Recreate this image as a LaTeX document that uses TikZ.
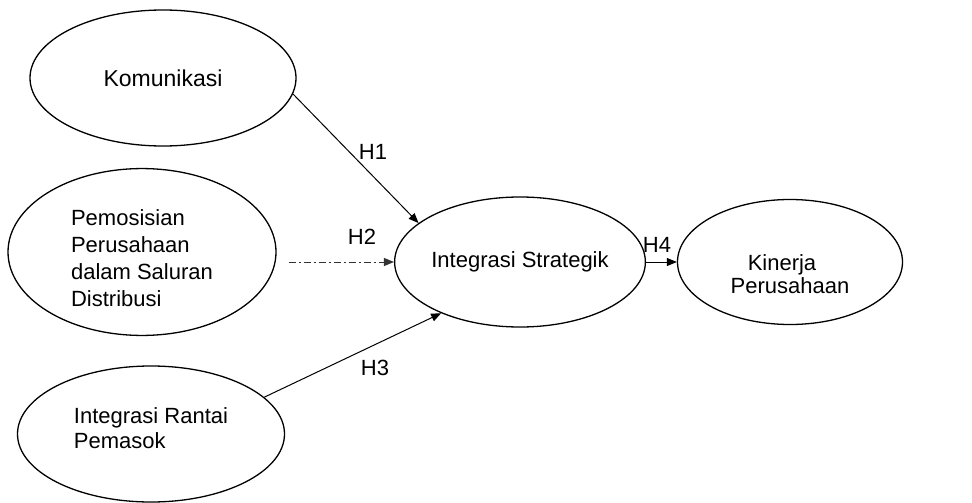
\documentclass[tikz,border=0pt]{standalone}
\usepackage{fontspec}
\setmainfont{Liberation Sans}
\usetikzlibrary{shapes.geometric,arrows.meta}
\tikzset{
  construct/.style={draw=black, line width=1.3pt, ellipse, inner sep=0pt,
    font=\fontsize{22}{27}\selectfont},
  hyp/.style={line width=1pt, -{Triangle[length=10pt,width=8pt]}},
  hlabel/.style={font=\fontsize{22}{26}\selectfont, inner sep=0pt}
}
\begin{document}
\begin{tikzpicture}[x=1pt,y=-1pt]
\useasboundingbox (0,0) rectangle (972,503);
\node[construct, minimum width=266pt, minimum height=136pt] (kom) at (163,78) {\fontsize{23}{27}\selectfont Komunikasi};
\node[construct, minimum width=268pt, minimum height=139pt, align=left, text height=113pt, text depth=5pt] (pem) at (142,252) {Pemosisian\\Perusahaan\\dalam Saluran\\Distribusi};
\node[construct, minimum width=267pt, minimum height=136pt, align=left, font=\fontsize{22}{25}\selectfont, text height=43pt, text depth=15pt] (ran) at (151,434) {Integrasi Rantai\\Pemasok};
\node[construct, minimum width=234pt, minimum height=130pt] (str) at (520,262) {Integrasi Strategik};
\node[construct, minimum width=225pt, minimum height=125pt, align=center, font=\fontsize{22}{23}\selectfont, text height=67pt, text depth=5pt] (kin) at (790,262) {\hspace*{-16pt}Kinerja\\Perusahaan};
\draw[hyp] (kom.-7.5) -- (str.159.6);
\draw[hyp, black!80, dash pattern=on 7pt off 3pt on 2pt off 3pt, shorten <=12pt] (pem.east |- str.west) -- (str.west);
\draw[hyp] (ran.18) -- (str.-147);
\draw[hyp] (str.east) -- (kin.west);
\node[hlabel] (h1) at (373,152) {H1};
\node[hlabel] (h2) at (362,237) {H2};
\node[hlabel] (h3) at (375,368) {H3};
\node[hlabel] (h4) at (657,245) {H4};
\end{tikzpicture}
\end{document}
